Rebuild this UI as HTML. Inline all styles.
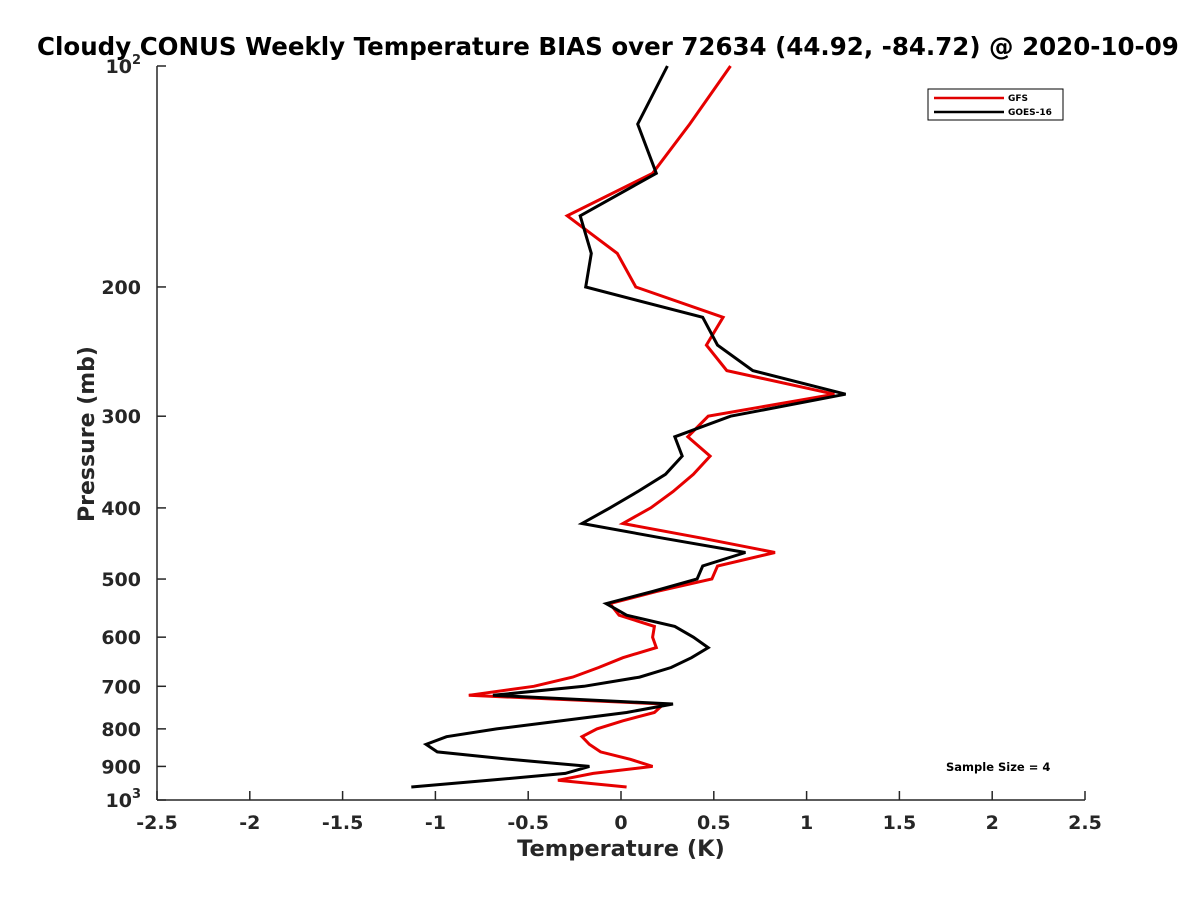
<!DOCTYPE html>
<html><head><meta charset="utf-8"><style>
html,body{margin:0;padding:0;background:#fff;width:1200px;height:900px;overflow:hidden}
svg text{font-family:"DejaVu Sans","Liberation Sans",sans-serif;font-weight:bold}
</style></head><body>
<svg id="chart" width="1200" height="900" viewBox="0 0 1200 900" xmlns="http://www.w3.org/2000/svg">
<rect width="1200" height="900" fill="#fff"/>
<text x="37" y="55" font-size="24.5" fill="#000">Cloudy CONUS Weekly Temperature BIAS over 72634 (44.92, -84.72) @ 2020-10-09</text>
<g id="axes"></g>
<g id="series"></g>
<g>
<rect x="928" y="89" width="135" height="31" fill="#fff" stroke="#000" stroke-width="1"/>
<line x1="934" y1="98" x2="1004" y2="98" stroke="#e00000" stroke-width="2.5"/>
<text x="1008" y="101" font-size="9" fill="#000">GFS</text>
<line x1="934" y1="112" x2="1004" y2="112" stroke="#000" stroke-width="2.5"/>
<text x="1008" y="115" font-size="9" fill="#000">GOES-16</text>
</g>
<text x="946" y="771" font-size="11.5" fill="#000">Sample Size = 4</text>
<text x="621" y="856" font-size="22.5" fill="#262626" text-anchor="middle">Temperature (K)</text>
<text x="0" y="0" font-size="22" fill="#262626" text-anchor="middle" transform="translate(94,434) rotate(-90)">Pressure (mb)</text>
</svg>
<script>
const pressureLevels=[100,120,140,160,180,200,220,240,260,280,300,320,340,360,380,400,420,440,460,480,500,520,540,560,580,600,620,640,660,680,700,720,740,760,780,800,820,840,860,880,900,920,940,960];
const gfsBias=[0.59,0.37,0.17,-0.29,-0.02,0.08,0.55,0.46,0.57,1.15,0.47,0.36,0.48,0.39,0.28,0.16,0.01,0.44,0.83,0.52,0.49,0.19,-0.06,-0.01,0.18,0.17,0.19,0.01,-0.12,-0.26,-0.47,-0.82,0.23,0.18,0.01,-0.13,-0.21,-0.17,-0.11,0.05,0.17,-0.15,-0.34,0.03];
const goesBias=[0.25,0.09,0.19,-0.22,-0.16,-0.19,0.44,0.52,0.71,1.21,0.59,0.29,0.33,0.24,0.09,-0.06,-0.21,0.23,0.67,0.44,0.41,0.17,-0.08,0.03,0.29,0.39,0.47,0.38,0.27,0.10,-0.20,-0.69,0.28,0.03,-0.32,-0.67,-0.94,-1.05,-0.99,-0.60,-0.17,-0.30,-0.71,-1.13];
const xTicks=[-2.5,-2,-1.5,-1,-0.5,0,0.5,1,1.5,2,2.5];
const xTickLabels=["-2.5","-2","-1.5","-1","-0.5","0","0.5","1","1.5","2","2.5"];
const yTicks=[100,200,300,400,500,600,700,800,900,1000];
const yTickLabels=["10^2","200","300","400","500","600","700","800","900","10^3"];

const L=157,R=1085,T=66,B=800;
const xs=v=>L+(v-(-2.5))/5*(R-L);
const ys=p=>T+(Math.log10(p)-2)*(B-T);
const NS="http://www.w3.org/2000/svg";
function mk(tag,attrs,parent){const e=document.createElementNS(NS,tag);for(const k in attrs)e.setAttribute(k,attrs[k]);parent.appendChild(e);return e;}
const axes=document.getElementById('axes');
const xa=mk('line',{x1:L,y1:B,x2:R,y2:B,stroke:'#262626','stroke-width':1.5},axes);


const ya=mk('line',{x1:L,y1:T,x2:L,y2:B,stroke:'#262626','stroke-width':1.5},axes);


xTicks.forEach((v,i)=>{
  const x=xs(v);
  const t=mk('line',{x1:x,y1:B,x2:x,y2:B-9,stroke:'#262626','stroke-width':1.5},axes);
  
  
  const lb=mk('text',{x:x,y:B+29,'font-size':19,fill:'#262626','text-anchor':'middle'},axes);
  lb.textContent=xTickLabels[i];
  
  
});
yTicks.forEach((p,i)=>{
  const y=ys(p);
  const t=mk('line',{x1:L,y1:y,x2:L+9,y2:y,stroke:'#262626','stroke-width':1.5},axes);
  
  
  const lb=mk('text',{x:L-16,y:y+7,'font-size':19,fill:'#262626','text-anchor':'end'},axes);
  const s=yTickLabels[i];
  if(s.indexOf('^')>=0){
    const parts=s.split('^');
    const a=mk('tspan',{},lb);a.textContent=parts[0];
    const b=mk('tspan',{dy:-9,'font-size':13},lb);b.textContent=parts[1];
  } else lb.textContent=s;
  
  
});
const sg=document.getElementById('series');
function line(vals,color,name){
  const pts=vals.map((v,i)=>xs(v).toFixed(1)+','+ys(pressureLevels[i]).toFixed(1)).join(' ');
  const pl=mk('polyline',{points:pts,fill:'none',stroke:color,'stroke-width':3,'stroke-linejoin':'miter'},sg);
  
  
}
line(gfsBias,'#e60000','gfs-line');
line(goesBias,'#000000','goes16-line');
</script>
</body></html>
